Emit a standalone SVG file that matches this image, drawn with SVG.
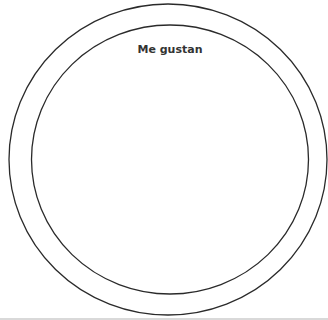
<svg xmlns="http://www.w3.org/2000/svg" width="328" height="320" viewBox="0 0 328 320">
<style>
.ring{fill:none;stroke:#2a2a2a;stroke-width:1.3}
.lbl{font-family:"DejaVu Sans",sans-serif;font-weight:bold;font-size:11px;fill:#333;text-anchor:middle}
</style>
<rect width="328" height="320" fill="#fff"/>
<g id="outer"><ellipse class="ring" cx="168" cy="159.5" rx="159" ry="155.5"/></g>
<g id="inner"><ellipse class="ring" cx="170" cy="159.5" rx="138.5" ry="134.5"/>
<text class="lbl" x="170" y="53">Me gustan</text></g>
<g id="connectors"></g>
<rect x="0" y="318" width="328" height="2" fill="#d9d9d9"/>
</svg>
